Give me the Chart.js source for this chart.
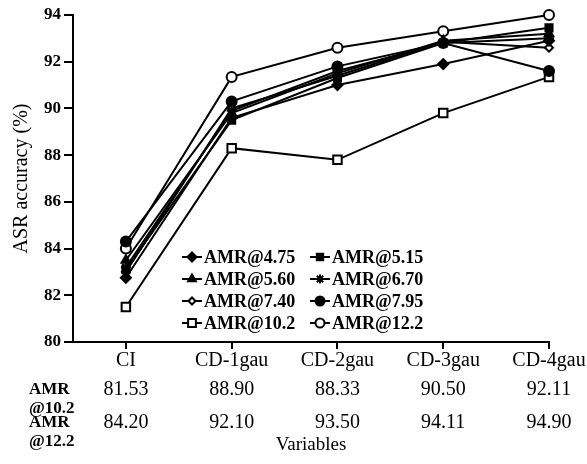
<!DOCTYPE html>
<html><head><meta charset="utf-8">
<script src="https://cdn.jsdelivr.net/npm/chart.js@4/dist/chart.umd.min.js"></script>
<style>html,body{margin:0;padding:0;background:#fff}#wrap{width:587px;height:464px}</style>
</head><body><div id="wrap"><canvas id="c" width="587" height="464"></canvas></div>
<script>
const categories = ['CI','CD-1gau','CD-2gau','CD-3gau','CD-4gau'];
const yTicks = [80,82,84,86,88,90,92,94];
const amr475 = [82.75, 89.6, 91.0, 91.9, 92.9];
const amr515 = [83.1, 89.5, 91.3, 92.8, 93.45];
const amr560 = [83.5, 89.8, 91.5, 92.9, 93.2];
const amr670 = [83.2, 89.9, 91.6, 92.8, 93.0];
const amr740 = [83.0, 90.0, 91.4, 92.85, 92.6];
const amr795 = [84.3, 90.3, 91.8, 92.8, 91.6];
const amr102 = [81.5, 88.3, 87.8, 89.8, 91.35];
const amr122 = [84.0, 91.35, 92.6, 93.3, 94.0];
const tableLabels = [['AMR','@10.2'],['AMR','@12.2']];
const table102 = ['81.53','88.90','88.33','90.50','92.11'];
const table122 = ['84.20','92.10','93.50','94.11','94.90'];

const FONT = 'Liberation Serif';
function pts(arr){ return arr.map((v,i)=>({x:i,y:v})); }
function ds(label, data, style, filled, r){
  return {label, data: pts(data), borderColor:'#000', backgroundColor: filled ? '#000' : '#fff',
    borderWidth:2, pointStyle:style, pointRadius:r, pointBorderWidth:2, pointBorderColor:'#000',
    pointBackgroundColor: filled ? '#000' : '#fff', tension:0, fill:false, clip:false};
}
const datasets = [
  ds('AMR@4.75', amr475, 'rectRot', true, 5),
  ds('AMR@5.15', amr515, 'rect', true, 5),
  ds('AMR@5.60', amr560, 'triangle', true, 5),
  ds('AMR@6.70', amr670, 'star', false, 5),
  ds('AMR@7.40', amr740, 'rectRot', false, 4),
  ds('AMR@7.95', amr795, 'circle', true, 5),
  ds('AMR@10.2', amr102, 'rect', false, 6),
  ds('AMR@12.2', amr122, 'circle', false, 5)
];

const extras = {
  id:'extras',
  afterDraw(chart){
    const ctx = chart.ctx, xs = chart.scales.x;
    ctx.save();
    ctx.fillStyle = '#000';
    ctx.textBaseline = 'middle';
    // table rows
    const rows = [[table102, 390, tableLabels[0]], [table122, 423, tableLabels[1]]];
    rows.forEach(([vals, y, lab])=>{
      ctx.font = 'bold 17px "' + FONT + '"';
      ctx.textAlign = 'left';
      ctx.fillText(lab[0], 29, y);
      ctx.fillText(lab[1], 29, y+19);
      ctx.font = '20px "' + FONT + '"';
      ctx.textAlign = 'center';
      vals.forEach((v,i)=>ctx.fillText(v, xs.getPixelForValue(i), y));
    });
    // legend inside plot
    ctx.font = 'bold 18px "' + FONT + '"';
    const cols = [182, 310], rowsY = [257, 279, 301, 323];
    datasets.forEach((d, i)=>{
      const x0 = cols[i%2], y = rowsY[Math.floor(i/2)];
      ctx.strokeStyle = '#000'; ctx.lineWidth = 2;
      ctx.beginPath(); ctx.moveTo(x0, y); ctx.lineTo(x0+20, y); ctx.stroke();
      ctx.fillStyle = d.pointBackgroundColor;
      Chart.helpers.drawPoint(ctx, {pointStyle:d.pointStyle, radius:d.pointRadius-0.5, borderWidth:2}, x0+10, y);
      ctx.fillStyle = '#000';
      ctx.textAlign = 'left';
      ctx.fillText(d.label, x0+22, y+1);
    });
    ctx.restore();
  }
};

new Chart(document.getElementById('c'), {
  type:'line',
  data:{datasets},
  plugins:[extras],
  options:{
    responsive:false, animation:false,
    layout:{padding:{left:0, right:38, top:15, bottom:0}},
    plugins:{legend:{display:false}, tooltip:{enabled:false}},
    scales:{
      x:{type:'linear', min:-0.5, max:4,
        afterBuildTicks: s => { s.ticks = categories.map((c,i)=>({value:i})); },
        afterFit: s => { s.height = 122; },
        ticks:{callback:(v)=>categories[v], color:'#000', font:{family:FONT, size:20}, padding:0, maxRotation:0, autoSkip:false},
        grid:{drawOnChartArea:false, drawTicks:true, tickLength:7, color:'#000', lineWidth:2},
        border:{display:true, color:'#000', width:2},
        title:{display:true, text:'Variables', color:'#000', font:{family:FONT, size:19}, padding:{top:0, bottom:8}}
      },
      y:{min:80, max:94,
        afterBuildTicks: s => { s.ticks = yTicks.map(v=>({value:v})); },
        afterFit: s => { s.width = 73; },
        ticks:{color:'#000', font:{family:FONT, size:17, weight:'bold'}, padding:3},
        grid:{drawOnChartArea:false, drawTicks:true, tickLength:9, color:'#000', lineWidth:2},
        border:{display:true, color:'#000', width:2},
        title:{display:true, text:'ASR accuracy (%)', color:'#000', font:{family:FONT, size:20}, padding:{top:10, bottom:0}}
      }
    }
  }
});
</script></body></html>
